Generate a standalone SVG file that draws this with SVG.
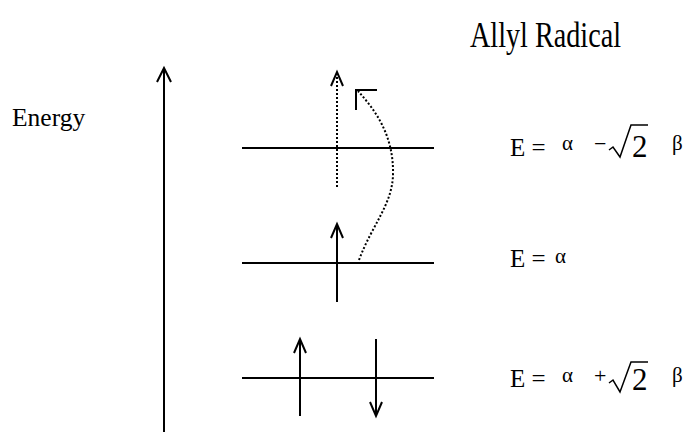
<svg xmlns="http://www.w3.org/2000/svg" width="687" height="432" viewBox="0 0 687 432">
<style>
text{font-family:"Liberation Serif","Times New Roman","DejaVu Serif",serif;fill:#000}
.ln{stroke:#000;stroke-width:2;fill:none}
.rad{stroke:#000;stroke-width:1.5;fill:none}
.dot{stroke:#000;stroke-width:2;fill:none;stroke-dasharray:2 2}
.eq{font-size:25px}
.gr{font-size:21px}
.op{font-size:22px}
.two{font-size:31px}
</style>
<rect width="687" height="432" fill="#fff"/>
<text x="470" y="47" font-size="35" textLength="151" lengthAdjust="spacingAndGlyphs">Allyl Radical</text>
<g id="energy-axis">
<line class="ln" x1="164" y1="432" x2="164" y2="68"/>
<polyline class="ln" points="157,82 164,68 171,82"/>
<text x="12" y="126" font-size="25.5">Energy</text>
</g>
<g id="level-top">
<line class="ln" x1="242" y1="148" x2="434" y2="148"/>
<text class="eq" x="510" y="156">E =</text>
<text class="gr" x="562" y="150">α</text>
<text class="op" x="594" y="151">−</text>
<path class="rad" d="M609,150 L613,147 L620,157 L631,125 L648,125"/>
<text class="two" x="632" y="157">2</text>
<text class="gr" x="672" y="150">β</text>
</g>
<g id="level-mid">
<line class="ln" x1="242" y1="263" x2="434" y2="263"/>
<text class="eq" x="510" y="267">E =</text>
<text class="gr" x="555" y="263">α</text>
</g>
<g id="level-bottom">
<line class="ln" x1="242" y1="378" x2="434" y2="378"/>
<text class="eq" x="510" y="387">E =</text>
<text class="gr" x="562" y="382">α</text>
<text class="op" x="594" y="383">+</text>
<path class="rad" d="M609,383 L613,380 L620,392 L631,362 L648,362"/>
<text class="two" x="632" y="390">2</text>
<text class="gr" x="672" y="382">β</text>
</g>
<g id="connectors">
<line class="ln" x1="337" y1="302" x2="337" y2="224"/>
<polyline class="ln" points="331,238 337,224 343,238"/>
<line class="dot" x1="337" y1="187" x2="337" y2="72"/>
<polyline class="ln" points="331,86 337,72 343,86"/>
<path class="dot" d="M359,260 C372,225 392,205 393,175 C394,135 375,110 358,91"/>
<polyline class="ln" points="356,110 356,90 377,90"/>
<line class="ln" x1="300" y1="416" x2="300" y2="339"/>
<polyline class="ln" points="294,353 300,339 306,353"/>
<line class="ln" x1="376" y1="339" x2="376" y2="416"/>
<polyline class="ln" points="370,402 376,416 382,402"/>
</g>
</svg>
